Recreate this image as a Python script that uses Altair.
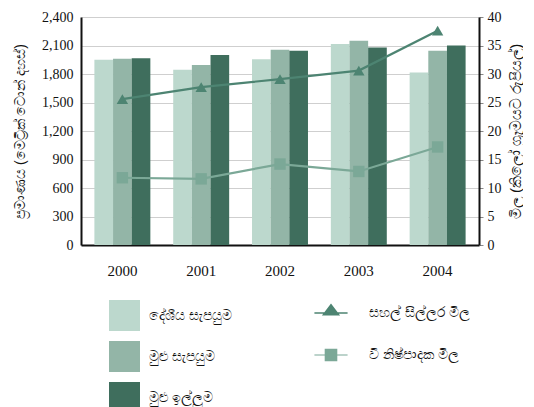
import altair as alt
import pandas as pd

years = ["2000", "2001", "2002", "2003", "2004"]
bar_series = ["දේශීය සැපයුම", "මුළු සැපයුම", "මුළු ඉල්ලුම"]
domestic_supply = [1950, 1845, 1955, 2115, 1815]
total_supply = [1960, 1895, 2055, 2150, 2045]
total_demand = [1965, 2000, 2045, 2080, 2100]

line_series = ["සහල් සිල්ලර මිල", "වී නිෂ්පාදක මිල"]
rice_retail_price = [25.6, 27.7, 29.1, 30.6, 37.6]
paddy_producer_price = [11.8, 11.6, 14.2, 12.9, 17.2]

bar_colors = ["#bcd8cd", "#93b5a7", "#3f6e5d"]
line_colors = ["#4d8472", "#7ba897"]

# legend glyphs: a short line with the marker on it
tri_legend = "M-1,-0.04L1,-0.04L1,0.04L-1,0.04Z M-0.55,0.15L0,-0.58L0.55,0.15Z"
sq_legend = "M-1,-0.03L1,-0.03L1,0.03L-1,0.03Z M-0.38,-0.38L0.38,-0.38L0.38,0.38L-0.38,0.38Z"

rows = []
for s, vals in zip(bar_series, [domestic_supply, total_supply, total_demand]):
    for y, v in zip(years, vals):
        rows.append({"year": y, "series": s, "value": v})
bars_df = pd.DataFrame(rows)

rows = []
for s, vals in zip(line_series, [rice_retail_price, paddy_producer_price]):
    for y, v in zip(years, vals):
        rows.append({"year": y, "lseries": s, "price": v})
lines_df = pd.DataFrame(rows)

font = "Liberation Serif"

x_enc = alt.X("year:N", sort=years, title=None,
              scale=alt.Scale(paddingInner=0.29, paddingOuter=0.17),
              axis=alt.Axis(labelAngle=0, ticks=False, labelPadding=18, labelFontSize=15,
                            labelFont=font, labelColor="#111", domainColor="#111",
                            domainWidth=2))

bars = alt.Chart(bars_df).mark_bar(opacity=1).encode(
    x=x_enc,
    xOffset=alt.XOffset("series:N", sort=bar_series, scale=alt.Scale(paddingInner=0, paddingOuter=0)),
    y=alt.Y("value:Q", scale=alt.Scale(domain=[0, 2400]),
            title="ප්‍රමාණය (මෙට්‍රික් ටොන් දහස්)",
            axis=alt.Axis(values=list(range(0, 2401, 300)), format=",.0f", ticks=False,
                          labelFont=font, labelFontSize=14, labelColor="#111",
                          labelPadding=8, domainColor="#111", domainWidth=2,
                          grid=True, gridColor="#cfcfcf", titleFontSize=14,
                          titleFontWeight="normal", titleColor="#111", titlePadding=14)),
    color=alt.Color("series:N", sort=bar_series,
                    scale=alt.Scale(domain=bar_series, range=bar_colors),
                    legend=alt.Legend(title=None, orient="none", legendX=28, legendY=283,
                                      symbolType="square", symbolSize=960,
                                      symbolStrokeWidth=0, rowPadding=10,
                                      labelFontSize=14, labelColor="#111",
                                      labelOffset=9, symbolOpacity=1)),
)

line = alt.Chart(lines_df).mark_line(strokeWidth=2.2).encode(
    x=alt.X("year:N", sort=years),
    y=alt.Y("price:Q", scale=alt.Scale(domain=[0, 40]),
            title="මිල (කිලෝ ග්‍රෑමයට රුපියල්)",
            axis=alt.Axis(orient="right", values=list(range(0, 41, 5)), ticks=True,
                          tickSize=4, labelFont=font, labelFontSize=14, labelColor="#111",
                          labelPadding=4, domainColor="#111", domainWidth=2, grid=False,
                          titleFontSize=15, titleFontWeight="normal", titleColor="#111",
                          titleAngle=270, titleBaseline="top", titlePadding=7)),
    color=alt.Color("lseries:N", sort=line_series,
                    scale=alt.Scale(domain=line_series, range=line_colors), legend=None),
)

points = alt.Chart(lines_df).mark_point(filled=True, size=130, opacity=1).encode(
    x=alt.X("year:N", sort=years),
    y=alt.Y("price:Q", scale=alt.Scale(domain=[0, 40]), axis=None),
    color=alt.Color("lseries:N", sort=line_series,
                    scale=alt.Scale(domain=line_series, range=line_colors), legend=None),
    shape=alt.Shape("lseries:N", sort=line_series,
                    scale=alt.Scale(domain=line_series, range=["triangle-up", "square"]),
                    legend=None),
)

line_legend = alt.Legend(title=None, orient="none", legendX=233, legendY=279,
                         symbolSize=1100, rowPadding=18, labelFontSize=14,
                         labelColor="#111", labelOffset=21, symbolOpacity=1,
                         symbolStrokeWidth=0)

legend_layer = alt.Chart(lines_df).transform_filter("false").mark_point(
    filled=True, opacity=1
).encode(
    x=alt.X("year:N", sort=years),
    y=alt.Y("price:Q", scale=alt.Scale(domain=[0, 40]), axis=None),
    color=alt.Color("lseries:N", sort=line_series,
                    scale=alt.Scale(domain=line_series, range=line_colors),
                    legend=line_legend),
    shape=alt.Shape("lseries:N", sort=line_series,
                    scale=alt.Scale(domain=line_series, range=[tri_legend, sq_legend]),
                    legend=line_legend),
)

chart = alt.layer(bars, line, points, legend_layer).resolve_scale(
    y="independent", color="independent", shape="independent"
).properties(width=398, height=228,
             padding={"top": 2, "left": 5, "right": 0, "bottom": 5}
).configure_view(stroke=None)

chart.save("out.html", embed_options={"renderer": "svg", "actions": False})
